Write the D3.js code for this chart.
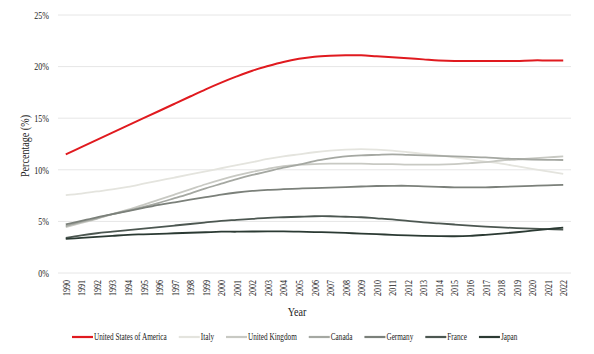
<!DOCTYPE html>
<html>
<head>
<meta charset="utf-8">
<script src="https://cdn.jsdelivr.net/npm/d3@7"></script>
<style>
  body { margin: 0; background: #fff; }
  text { font-family: "Liberation Serif", "Times New Roman", serif; fill: #222; }
  .grid line { stroke: #e6e6e6; stroke-width: 1; }
</style>
</head>
<body>
<svg id="chart" width="594" height="354"></svg>
<script>
const years = d3.range(1990, 2023);
const countries = ["United States of America", "Italy", "United Kingdom", "Canada", "Germany", "France", "Japan"];
const colors = ["#e01a1f", "#e4e4de", "#c8c9c3", "#a5a8a2", "#7b807a", "#4c5751", "#2b3a33"];
const yTicks = [0, 5, 10, 15, 20, 25];

const usa = [11.5, 12.2, 12.9, 13.6, 14.3, 15.0, 15.7, 16.4, 17.1, 17.8, 18.45, 19.05, 19.6, 20.05, 20.45, 20.75, 20.95, 21.05, 21.1, 21.1, 21.0, 20.9, 20.8, 20.7, 20.6, 20.55, 20.55, 20.55, 20.55, 20.55, 20.6, 20.6, 20.6];
const italy = [7.55, 7.7, 7.9, 8.1, 8.35, 8.65, 8.95, 9.25, 9.55, 9.85, 10.15, 10.45, 10.75, 11.05, 11.3, 11.5, 11.7, 11.85, 11.95, 12.0, 11.95, 11.85, 11.7, 11.55, 11.4, 11.2, 11.0, 10.8, 10.6, 10.35, 10.1, 9.85, 9.6];
const uk = [4.45, 4.85, 5.25, 5.7, 6.15, 6.6, 7.1, 7.6, 8.1, 8.6, 9.05, 9.45, 9.8, 10.1, 10.35, 10.5, 10.55, 10.6, 10.6, 10.6, 10.55, 10.55, 10.5, 10.5, 10.5, 10.55, 10.65, 10.75, 10.9, 11.0, 11.1, 11.2, 11.3];
const canada = [4.55, 4.95, 5.3, 5.7, 6.05, 6.4, 6.8, 7.25, 7.7, 8.2, 8.65, 9.1, 9.5, 9.85, 10.2, 10.5, 10.85, 11.1, 11.3, 11.4, 11.45, 11.5, 11.45, 11.4, 11.35, 11.3, 11.25, 11.2, 11.1, 11.05, 11.0, 10.97, 10.95];
const germany = [4.7, 5.05, 5.4, 5.7, 6.0, 6.3, 6.6, 6.85, 7.1, 7.35, 7.6, 7.8, 7.95, 8.05, 8.12, 8.18, 8.23, 8.28, 8.33, 8.38, 8.43, 8.45, 8.45, 8.4, 8.35, 8.3, 8.3, 8.3, 8.35, 8.4, 8.45, 8.5, 8.53];
const france = [3.4, 3.65, 3.85, 4.0, 4.15, 4.3, 4.45, 4.6, 4.75, 4.9, 5.05, 5.15, 5.25, 5.35, 5.4, 5.45, 5.5, 5.5, 5.45, 5.4, 5.3, 5.2, 5.05, 4.9, 4.8, 4.7, 4.6, 4.5, 4.42, 4.35, 4.3, 4.25, 4.2];
const japan = [3.3, 3.4, 3.5, 3.6, 3.7, 3.75, 3.8, 3.85, 3.9, 3.95, 4.0, 4.0, 4.02, 4.03, 4.03, 4.0, 3.97, 3.93, 3.88, 3.82, 3.76, 3.7, 3.64, 3.6, 3.57, 3.56, 3.6, 3.7, 3.82, 3.95, 4.1, 4.25, 4.4];

const seriesValues = [usa, italy, uk, canada, germany, france, japan];

const svg = d3.select("#chart");
const margin = { left: 58, right: 23, top: 15, bottom: 81 };
const W = 594, H = 354;

// squeeze text horizontally to mimic the condensed serif of the original
function squeeze(sel, k) {
    sel.each(function () {
        const len = this.getComputedTextLength();
        d3.select(this).attr("textLength", len * k).attr("lengthAdjust", "spacingAndGlyphs");
    });
}

const x = d3.scalePoint()
    .domain(years)
    .range([margin.left, W - margin.right])
    .padding(0.5);

const y = d3.scaleLinear()
    .domain([0, 25])
    .range([H - margin.bottom, margin.top]);

// grid
svg.append("g")
    .attr("class", "grid")
    .selectAll("line")
    .data(yTicks)
    .join("line")
    .attr("x1", margin.left)
    .attr("x2", W - margin.right)
    .attr("y1", d => y(d))
    .attr("y2", d => y(d));

// y axis
const yAxis = svg.append("g")
    .attr("transform", `translate(${margin.left - 9},0)`)
    .call(d3.axisLeft(y).tickValues(yTicks).tickSize(0).tickFormat(d => d + "%"));
yAxis.select(".domain").remove();
yAxis.selectAll("text")
    .attr("x", 0)
    .style("font-family", '"Liberation Serif", serif')
    .style("font-size", "10px")
    .attr("fill", "#333");
squeeze(yAxis.selectAll("text"), 0.8);

// x axis
const xAxis = svg.append("g")
    .attr("transform", `translate(0,${H - margin.bottom})`)
    .call(d3.axisBottom(x).tickSize(0));
xAxis.select(".domain").remove();
xAxis.selectAll("text")
    .attr("transform", "rotate(-90)")
    .attr("text-anchor", "end")
    .attr("x", -7)
    .attr("y", 0)
    .attr("dy", "0.35em")
    .style("font-family", '"Liberation Serif", serif')
    .style("font-size", "10px")
    .attr("fill", "#333");
squeeze(xAxis.selectAll("text"), 0.8);

// axis titles
const yTitle = svg.append("text")
    .attr("transform", `translate(29,${(y(0) + y(25)) / 2 + 2}) rotate(-90)`)
    .attr("text-anchor", "middle")
    .style("font-size", "11.5px")
    .text("Percentage (%)");
squeeze(yTitle, 0.88);

const xTitle = svg.append("text")
    .attr("x", 297)
    .attr("y", 316)
    .attr("text-anchor", "middle")
    .style("font-size", "11.5px")
    .text("Year");
squeeze(xTitle, 0.88);

// lines
const line = d3.line()
    .x((d, i) => x(years[i]))
    .y(d => y(d))
    .curve(d3.curveCatmullRom.alpha(0.5));

const order = [1, 2, 3, 4, 5, 6, 0];
svg.append("g")
    .selectAll("path")
    .data(order)
    .join("path")
    .attr("d", i => line(seriesValues[i]))
    .attr("fill", "none")
    .attr("stroke", i => colors[i])
    .attr("stroke-width", i => i === 0 ? 2 : 1.8);

// legend
const legend = svg.append("g").attr("transform", "translate(0,337)");
let cursor = 72;
countries.forEach((name, i) => {
    const g = legend.append("g").attr("transform", `translate(${cursor},0)`);
    g.append("line")
        .attr("x1", 0).attr("x2", 21)
        .attr("y1", 0).attr("y2", 0)
        .attr("stroke", colors[i])
        .attr("stroke-width", 2.2);
    const t = g.append("text")
        .attr("x", 22)
        .attr("dy", "0.33em")
        .style("font-size", "9.5px")
        .text(name);
    const full = t.node().getComputedTextLength();
    const w = full * 0.76;
    t.attr("textLength", w).attr("lengthAdjust", "spacingAndGlyphs");
    cursor += 22 + w + 12;
});
</script>
</body>
</html>
